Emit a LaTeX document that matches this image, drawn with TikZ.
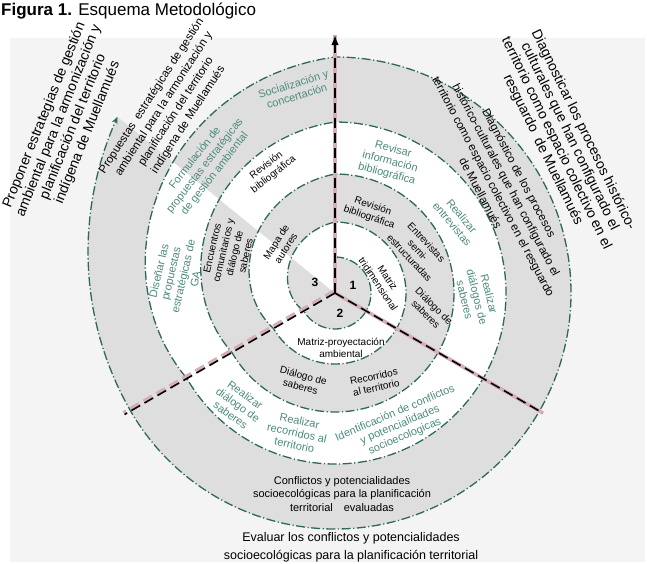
\documentclass[tikz,border=0pt]{standalone}
\usepackage{fontspec}
\setmainfont{Liberation Sans}
\usepackage{tikz}
\usetikzlibrary{calc,arrows.meta}
\definecolor{SpiralTeal}{RGB}{46,104,90}
\definecolor{ActTeal}{RGB}{76,138,126}
\definecolor{BandGray}{RGB}{222,222,222}
\definecolor{BackGray}{RGB}{244,244,244}
\definecolor{AxisPink}{RGB}{214,174,180}
\def\rA{36}\def\rB{71}\def\rC{119}\def\rD{171}\def\rE{236}

\begin{document}
\begin{tikzpicture}[x=1pt, y=1pt, >=Latex,
  declare function={sp(\p,\q,\w)=\p+(\q-\p)*(210-\w)/120; tail(\w)=236+44*((210-\w)/69)^2;},
  spiral/.style={draw=SpiralTeal, line width=1.3pt, dash pattern=on 9pt off 2.5pt on 1.2pt off 2.5pt},
  band/.style={fill=BandGray},
  blank/.style={fill=white},
  axis/.style={line width=1.6pt, dash pattern=on 10pt off 5pt},
  axshade/.style={AxisPink, line width=3.6pt},
  lbl/.style={font=\fontsize{10}{11.5}\selectfont, align=center, inner sep=0pt},
  act/.style={font=\fontsize{11}{12.5}\selectfont, align=center, inner sep=0pt, text=ActTeal},
  ring/.style={font=\fontsize{11.5}{14.5}\selectfont, align=center, inner sep=0pt},
  obj/.style={font=\fontsize{14}{15.5}\selectfont, align=center, inner sep=0pt},
  num/.style={font=\fontsize{12}{14}\selectfont\bfseries, inner sep=0pt}]

  \useasboundingbox (0,0) rectangle (647,-564);
  \fill[BackGray] (10,-38) rectangle (645,-562);
  \node[anchor=west, font=\fontsize{17}{20}\selectfont, inner sep=0pt] (title) at (1,-11) {\textbf{Figura 1.} Esquema Metodológico};

  \coordinate (ctr) at (335,-293);
  \begin{scope}[shift={(ctr)}]
    % sectors 1 and 2
    \foreach \ro/\fl in {\rE/band,\rD/blank,\rC/band,\rB/blank,\rA/band}
      \fill[\fl] (0,0) -- (90:\ro) arc[start angle=90, end angle=-150, radius=\ro] -- cycle;
    % sector 3 below the cut
    \fill[band] (0,0) -- plot[domain=210:141, samples=30] (\x:{tail(\x)}) -- cycle;
    \foreach \ri/\ro/\fl in {\rD/\rE/blank,\rC/\rD/band,\rB/\rC/blank,\rA/\rB/band}
      \fill[\fl] (0,0) -- plot[domain=210:141, samples=30] (\x:{sp(\ri,\ro,\x)}) -- cycle;
    % sector 3 above the cut
    \foreach \ri/\ro/\fl in {\rD/\rE/band,\rC/\rD/blank,\rB/\rC/band,\rA/\rB/blank}
      \fill[\fl] (0,0) -- plot[domain=141:90, samples=30] (\x:{sp(\ri,\ro,\x)}) -- cycle;

    \draw[spiral, -{Stealth[length=7pt, width=6pt]}] (90:\rA) arc[start angle=90, end angle=-150, radius=\rA]
      -- plot[domain=210:90, samples=40] (\x:{sp(\rA,\rB,\x)})
      arc[start angle=90, end angle=-150, radius=\rB]
      -- plot[domain=210:90, samples=40] (\x:{sp(\rB,\rC,\x)})
      arc[start angle=90, end angle=-150, radius=\rC]
      -- plot[domain=210:90, samples=40] (\x:{sp(\rC,\rD,\x)})
      arc[start angle=90, end angle=-150, radius=\rD]
      -- plot[domain=210:90, samples=40] (\x:{sp(\rD,\rE,\x)})
      arc[start angle=90, end angle=-150, radius=\rE]
      -- plot[domain=210:141, samples=30] (\x:{tail(\x)});
  \end{scope}

  \coordinate (axtop) at ($(ctr)+(90:258)$);
  \coordinate (axl) at ($(ctr)+(210:243)$);
  \coordinate (axr) at ($(ctr)+(-30:240)$);
  \draw[axshade] (ctr) -- (axtop);
  \draw[axshade] (ctr) -- (axr);
  \draw[axshade, dash pattern=on 10pt off 5pt, transform canvas={shift={(-1,1.8)}}] (ctr) -- (axl);
  \draw[axis, ->] (ctr) -- (axtop);
  \draw[axis] (ctr) -- (axr);
  \draw[axis] (ctr) -- (axl);

  % objectives
  \node[obj, rotate=68] (objprop) at (66,-124) {Proponer estrategias de gestión\\ambiental para la armonización y\\planificación del territorio\\indígena de Muellamués};
  \node[obj, font=\fontsize{14}{15}\selectfont, rotate=-64] (objdiag) at (563,-140) {Diagnosticar los procesos histórico-\\culturales que han configurado el\\territorio como espacio colectivo en el\\resguardo\enspace de Muellamués};
  \node[obj, font=\fontsize{12.5}{18}\selectfont] (objeval) at (351,-547) {Evaluar los conflictos y potencialidades\\socioecológicas para la planificación territorial};

  % sector 1
  \node[ring, rotate=-62] (diagring) at (500,-183) {Diagnóstico de los procesos\\histórico-culturales que han configurado el\\territorio como espacio colectivo en el resguardo\\de Muellamués};
  \node[act, rotate=-15] (revisar) at (390,-162) {Revisar\\información\\bibliográfica};
  \node[act, rotate=-50] (entrev) at (457,-220) {Realizar\\entrevistas};
  \node[act, rotate=-76] (dialogos) at (477,-297) {Realizar\\diálogos de\\saberes};
  \node[lbl, rotate=-19] (revbib) at (371,-212) {Revisión\\bibliográfica};
  \node[lbl, rotate=-47] (semi) at (418,-250) {Entrevistas\\semi-\\estructuradas};
  \node[lbl, rotate=-45] (dialA) at (430,-310) {Diálogo de\\saberes};
  \node[lbl, rotate=-56] (matriz) at (383,-281) {Matriz\\tridimensional};
  \node[num] (one) at (353,-285) {1};
  \node[num] (two) at (340,-313) {2};
  \node[num] (three) at (315,-282) {3};

  % sector 2
  \node[lbl] (proyec) at (341,-348) {Matriz-proyectación\\ambiental};
  \node[lbl, rotate=-15] (dialB) at (302,-381) {Diálogo de\\saberes};
  \node[lbl, rotate=12] (recorr) at (375,-382) {Recorridos\\al territorio};
  \node[act, rotate=-36] (realdial) at (238,-405) {Realizar\\diálogo de\\saberes};
  \node[act, rotate=-12] (realrec) at (297,-433) {Realizar\\recorridos al\\territorio};
  \node[act, rotate=23] (ident) at (400,-425) {Identificación de conflictos\\y potencialidades\\socioecologicas};
  \node[ring, font=\fontsize{11}{13.5}\selectfont] (conflring) at (342,-494) {Conflictos y potencialidades\\socioecológicas para la planificación\\territorial\quad evaluadas};

  % sector 3
  \node[ring, rotate=57] (propring) at (170,-108) {Propuestas\enspace estratégicas de gestión\\ambiental para la armonización y\\planificación del territorio\\indígena de Muellamués};
  \node[act, rotate=17] (social) at (295,-90) {Socialización y\\concertación};
  \node[act, rotate=52] (formul) at (205,-166) {Formulación de\\propuestas estratégicas\\de gestión ambiental};
  \node[lbl, rotate=38] (revbibB) at (270,-170) {Revisión\\bibliográfica};
  \node[act, rotate=77] (disenar) at (177,-275) {Diseñar las\\propuestas\\estratégicas de\\GA};
  \node[lbl, rotate=77] (encuent) at (229,-252) {Encuentros\\comunitarios y\\diálogo de\\saberes};
  \node[lbl, rotate=57] (mapa) at (281,-245) {Mapa de\\autores};
\end{tikzpicture}
\end{document}
